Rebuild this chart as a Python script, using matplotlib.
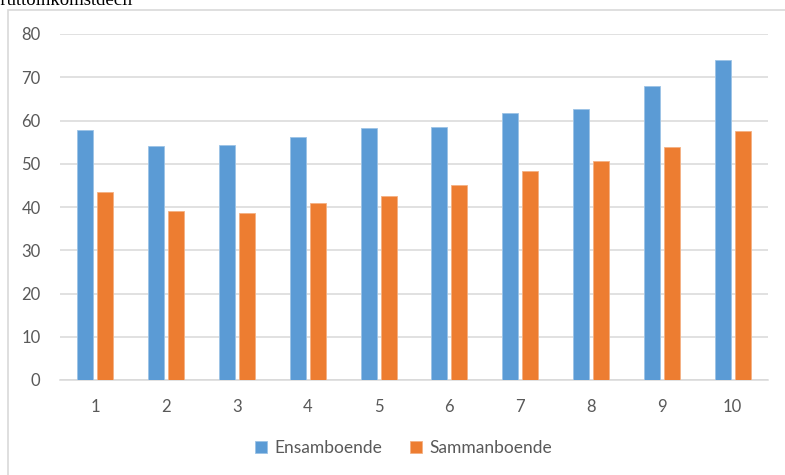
import numpy as np
import matplotlib
matplotlib.use("Agg")
import matplotlib.pyplot as plt
from matplotlib.patches import Rectangle

# ---- data ----
deciles = ["1", "2", "3", "4", "5", "6", "7", "8", "9", "10"]
ensamboende = [57.9, 54.0, 54.3, 56.3, 58.3, 58.5, 61.7, 62.7, 68.0, 74.0]
sammanboende = [43.5, 39.1, 38.6, 40.9, 42.5, 45.2, 48.4, 50.6, 53.9, 57.6]

BLUE = "#5b9bd5"
ORANGE = "#ed7d31"
GRID = "#d9d9d9"
TEXT = "#595959"
FONT = ["Lato", "DejaVu Sans"]

fig = plt.figure(figsize=(7.85, 4.75), dpi=100, facecolor="white")

# outer chart border, running off the bottom/right of the canvas
fig.patches.append(Rectangle((8 / 785, -0.05), 1.0, 1 - 10 / 475 + 0.05,
                             transform=fig.transFigure, fill=False,
                             edgecolor=GRID, linewidth=1.2))

# clipped heading above the chart
fig.text(-0.011, 1 - 5 / 475, "bruttoinkomstdecil", family="Liberation Serif",
         fontsize=13.5, color="black", ha="left", va="baseline")

ax = fig.add_axes([60 / 785, 1 - 380 / 475, (768 - 60) / 785, (380 - 34) / 475])

x = np.arange(1, len(deciles) + 1)
w = 0.226
gap = 0.056
ax.bar(x - (w + gap) / 2, ensamboende, w, color=BLUE, edgecolor="#9cc3e6",
       linewidth=0.6, label="Ensamboende", zorder=3)
ax.bar(x + (w + gap) / 2, sammanboende, w, color=ORANGE, edgecolor="#f4b183",
       linewidth=0.6, label="Sammanboende", zorder=3)

ax.set_xlim(0.5, 10.5)
ax.set_ylim(0, 80)
ax.set_yticks(range(0, 81, 10))
ax.set_xticks(x)
ax.set_xticklabels(deciles)
ax.grid(axis="y", color=GRID, linewidth=1.1, zorder=0)
ax.tick_params(length=0, colors=TEXT, labelsize=12)
ax.tick_params(axis="y", pad=14)
ax.tick_params(axis="x", pad=14)
for lab in ax.get_xticklabels() + ax.get_yticklabels():
    lab.set_family(FONT)
for s in ["top", "right", "left"]:
    ax.spines[s].set_visible(False)
ax.spines["bottom"].set_color(GRID)
ax.spines["bottom"].set_linewidth(1.1)

leg = fig.legend(loc="center", bbox_to_anchor=(403.5 / 785, 1 - 448 / 475),
                 ncol=2, frameon=False, handlelength=0.7, handleheight=0.7,
                 handletextpad=0.4, columnspacing=1.6,
                 prop={"family": FONT, "size": 12.5})
for t in leg.get_texts():
    t.set_color(TEXT)

fig.savefig("out.png", dpi=100, facecolor="white")
